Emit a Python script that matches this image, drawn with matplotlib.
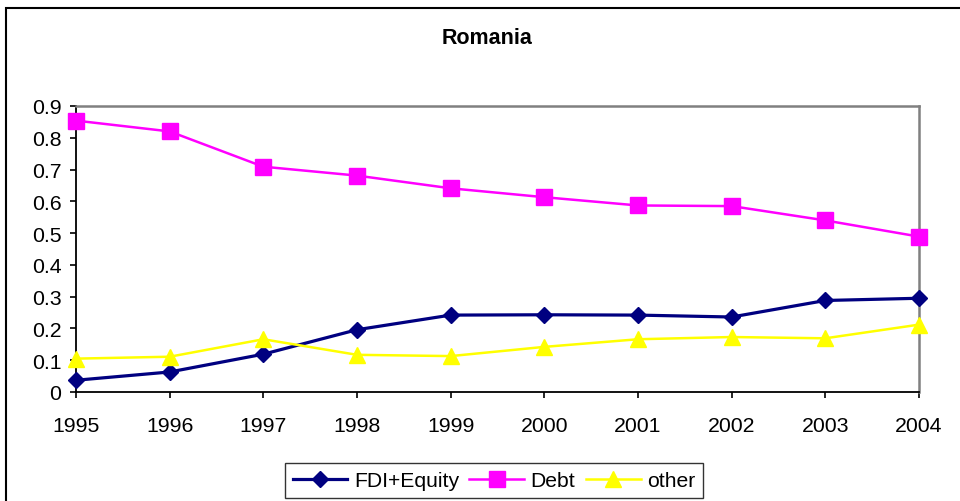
import matplotlib
matplotlib.use("Agg")
import matplotlib.pyplot as plt
from matplotlib.patches import Rectangle

plt.rcParams['font.family'] = ['Liberation Sans', 'DejaVu Sans']

years = [1995, 1996, 1997, 1998, 1999, 2000, 2001, 2002, 2003, 2004]
fdi_equity = [0.037, 0.063, 0.119, 0.196, 0.242, 0.243, 0.242, 0.236, 0.288, 0.295]
debt = [0.854, 0.820, 0.709, 0.681, 0.641, 0.613, 0.587, 0.585, 0.540, 0.489]
other = [0.105, 0.111, 0.166, 0.117, 0.113, 0.142, 0.166, 0.173, 0.169, 0.212]

fig = plt.figure(figsize=(9.6, 5.02), dpi=100)
ax = fig.add_axes([76 / 960, 1 - 393 / 502, 843 / 960, 286 / 502])

# outer chart border (cut off at right and bottom like the original)
fig.patches.append(Rectangle((6 / 960, -0.2), 1.2, 1.2 - 9 / 502,
                             transform=fig.transFigure, fill=False,
                             edgecolor='black', linewidth=1.5))

ax.plot(years, fdi_equity, color='#000080', linewidth=2.3, marker='D',
        markersize=8, label='FDI+Equity', clip_on=False, zorder=3)
ax.plot(years, debt, color='#FF00FF', linewidth=1.8, marker='s',
        markersize=11, label='Debt', clip_on=False, zorder=3)
ax.plot(years, other, color='#FFFF00', linewidth=1.8, marker='^',
        markersize=11.5, label='other', clip_on=False, zorder=3)

ax.set_xlim(1995, 2004)
ax.set_ylim(0, 0.9)
ax.set_xticks(years)
ax.set_yticks([0, 0.1, 0.2, 0.3, 0.4, 0.5, 0.6, 0.7, 0.8, 0.9])
ax.set_yticklabels(['0', '0.1', '0.2', '0.3', '0.4', '0.5', '0.6', '0.7', '0.8', '0.9'])
ax.tick_params(axis='x', direction='out', length=4, width=1.2, pad=13, labelsize=15.3)
ax.tick_params(axis='y', direction='out', length=4.5, width=1.2, pad=6, labelsize=15.3)

for side in ['left', 'bottom']:
    ax.spines[side].set_color('black')
    ax.spines[side].set_linewidth(1.3)
for side in ['top', 'right']:
    ax.spines[side].set_color('#808080')
    ax.spines[side].set_linewidth(1.8)

fig.text(487 / 960, 1 - 38 / 502, 'Romania', ha='center', va='center',
         fontsize=15.5, fontweight='bold')

leg = fig.legend(loc='center', bbox_to_anchor=(494 / 960, 1 - 481.5 / 502),
                 ncol=3, fontsize=15.2, frameon=True, fancybox=False,
                 edgecolor='black', handlelength=2.6, columnspacing=0.5,
                 handletextpad=0.3, borderpad=0.38, borderaxespad=0)
leg.get_frame().set_linewidth(1.0)

fig.savefig('out.png', dpi=100)
